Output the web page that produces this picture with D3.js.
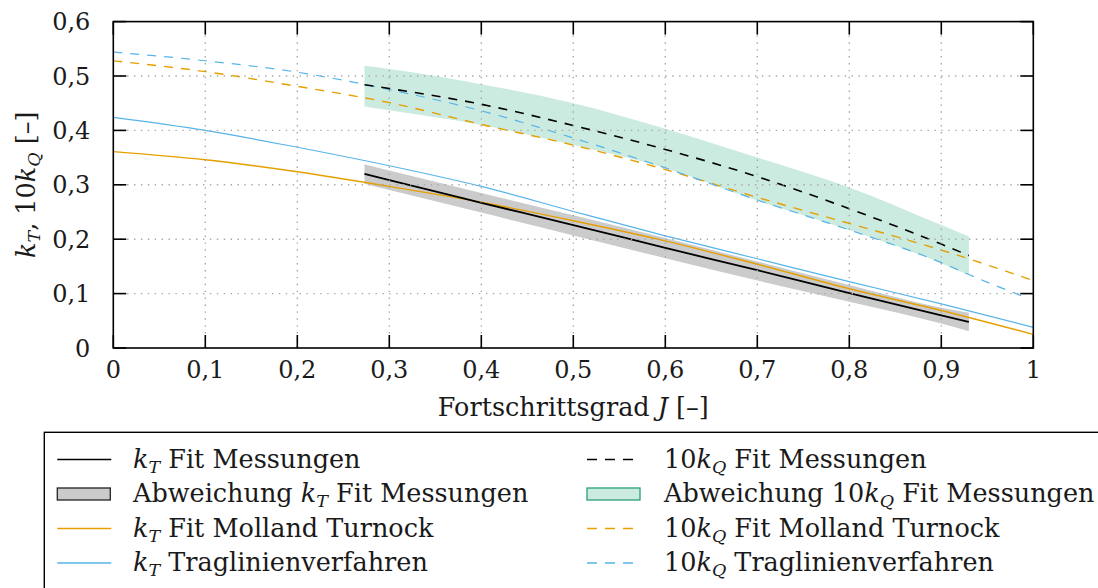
<!DOCTYPE html>
<html><head><meta charset="utf-8">
<script src="https://cdn.jsdelivr.net/npm/d3@7"></script>
<style>
body{margin:0;background:#fff;}
svg{display:block;font-family:"DejaVu Serif",serif;}
</style></head>
<body>
<svg id="c" width="1098" height="588"></svg>
<script>
// ---- data ----
const jModel = [0, 0.1, 0.2, 0.3, 0.4, 0.5, 0.6, 0.7, 0.8, 0.9, 1.0];
const kT_Tragl = [0.424, 0.400, 0.369, 0.335, 0.297, 0.251, 0.206, 0.164, 0.122, 0.081, 0.038];
const kT_MT    = [0.361, 0.346, 0.324, 0.297, 0.268, 0.234, 0.197, 0.154, 0.109, 0.069, 0.025];
const kQ10_MT  = [0.528, 0.508, 0.481, 0.451, 0.411, 0.373, 0.328, 0.277, 0.229, 0.180, 0.124];
const jTraglQ  = [0, 0.1, 0.2, 0.3, 0.4, 0.5, 0.6, 0.7, 0.8, 0.9, 0.93, 0.99];
const kQ10_Tragl = [0.544, 0.528, 0.507, 0.475, 0.436, 0.386, 0.331, 0.272, 0.217, 0.157, 0.135, 0.094];

const jMeas = [0.273, 0.3, 0.4, 0.5, 0.6, 0.7, 0.8, 0.9, 0.93];
const kT_Fit    = [0.320, 0.3085, 0.267, 0.226, 0.184, 0.143, 0.101, 0.060, 0.048];
const kT_Upper  = [0.338, 0.3265, 0.285, 0.244, 0.202, 0.159, 0.116, 0.074, 0.065];
const kT_Lower  = [0.302, 0.2905, 0.249, 0.207, 0.165, 0.124, 0.085, 0.045, 0.031];
const kQ10_Fit   = [0.484, 0.477, 0.448, 0.409, 0.365, 0.315, 0.256, 0.191, 0.170];
const kQ10_Upper = [0.519, 0.513, 0.485, 0.450, 0.403, 0.350, 0.295, 0.226, 0.205];
const kQ10_Lower = [0.444, 0.437, 0.410, 0.373, 0.331, 0.271, 0.217, 0.156, 0.134];

const xTicks = [0, 0.1, 0.2, 0.3, 0.4, 0.5, 0.6, 0.7, 0.8, 0.9, 1];
const yTicks = [0, 0.1, 0.2, 0.3, 0.4, 0.5, 0.6];

// ---- style ----
const C = {blue:"#56B4E9", orange:"#E69F00", black:"#000", gray:"#cbcbcb", green:"#cbeae0", greenStroke:"#2a9f79"};
const svg = d3.select("#c");
const L = 113.3, R = 1033.3, T = 21.6, B = 348;
const x = d3.scaleLinear().domain([0,1]).range([L,R]);
const y = d3.scaleLinear().domain([0,0.6]).range([B,T]);
const fmtY = v => v === 0 ? "0" : d3.format(".1f")(v).replace(".", ",");
const fmtX = v => v === 0 ? "0" : (v === 1 ? "1" : d3.format(".1f")(v).replace(".", ","));

svg.append("defs").append("clipPath").attr("id","clip")
  .append("rect").attr("x",L).attr("y",T).attr("width",R-L).attr("height",B-T);

const plot = svg.append("g").attr("clip-path","url(#clip)");

// bands
const area = (lo, hi) => d3.area().x((d,i)=>x(jMeas[i])).y0((d,i)=>y(lo[i])).y1((d,i)=>y(hi[i])).curve(d3.curveMonotoneX);
plot.append("path").datum(jMeas).attr("d", area(kT_Lower, kT_Upper)).attr("fill", C.gray);
plot.append("path").datum(jMeas).attr("d", area(kQ10_Lower, kQ10_Upper)).attr("fill", C.green);

// grid
const grid = svg.append("g");
xTicks.filter(v=>v>0 && v<1).forEach(v=>{
  grid.append("line").attr("x1",x(v)).attr("x2",x(v)).attr("y1",T).attr("y2",B)
    .attr("stroke","#a8a8a8").attr("stroke-width",1.4).attr("stroke-dasharray","1.4,5.5");
});
yTicks.filter(v=>v>0 && v<0.6).forEach(v=>{
  grid.append("line").attr("x1",L).attr("x2",R).attr("y1",y(v)).attr("y2",y(v))
    .attr("stroke","#a8a8a8").attr("stroke-width",1.4).attr("stroke-dasharray","1.4,5.5");
});

// lines
const line = (xs, ys) => d3.line().x((d,i)=>x(xs[i])).y((d,i)=>y(ys[i])).curve(d3.curveMonotoneX)(xs);
const series = [
  {xs:jModel, ys:kT_MT, c:C.orange, w:1.4, dash:null},
  {xs:jModel, ys:kT_Tragl, c:C.blue, w:1.2, dash:null},
  {xs:jModel, ys:kQ10_MT, c:C.orange, w:1.4, dash:"9,8"},
  {xs:jTraglQ, ys:kQ10_Tragl, c:C.blue, w:1.2, dash:"9,8"},
  {xs:jMeas, ys:kT_Fit, c:C.black, w:1.8, dash:null},
  {xs:jMeas, ys:kQ10_Fit, c:C.black, w:1.6, dash:"9,8"},
];
series.forEach(s=>{
  plot.append("path").attr("d", line(s.xs, s.ys)).attr("fill","none")
    .attr("stroke", s.c).attr("stroke-width", s.w).attr("stroke-dasharray", s.dash);
});

// frame & ticks
const ax = svg.append("g").attr("stroke","#000").attr("stroke-width",1.6);
ax.append("rect").attr("x",L).attr("y",T).attr("width",R-L).attr("height",B-T).attr("fill","none");
const TL = 13;
xTicks.forEach(v=>{
  ax.append("line").attr("x1",x(v)).attr("x2",x(v)).attr("y1",B).attr("y2",B-TL);
  ax.append("line").attr("x1",x(v)).attr("x2",x(v)).attr("y1",T).attr("y2",T+TL);
});
yTicks.forEach(v=>{
  ax.append("line").attr("x1",L).attr("x2",L+TL).attr("y1",y(v)).attr("y2",y(v));
  ax.append("line").attr("x1",R).attr("x2",R-TL).attr("y1",y(v)).attr("y2",y(v));
});

// tick labels
const TFS = 24, FS = 25.5, SFS = 17.5;
const txt = "#1a1a1a";
xTicks.forEach(v=>{
  svg.append("text").attr("x",x(v)).attr("y",B+30).attr("text-anchor","middle")
    .attr("font-size",TFS).attr("fill",txt).text(fmtX(v));
});
yTicks.forEach(v=>{
  svg.append("text").attr("x",L-23).attr("y",y(v)+8.5).attr("text-anchor","end")
    .attr("font-size",TFS).attr("fill",txt).text(fmtY(v));
});

// axis titles
const xt = svg.append("text").attr("x",(L+R)/2).attr("y",416).attr("text-anchor","middle").attr("font-size",FS).attr("fill",txt);
xt.append("tspan").text("Fortschrittsgrad ");
xt.append("tspan").attr("font-style","italic").text("J");
xt.append("tspan").text(" [–]");

const yt = svg.append("text").attr("transform",`translate(35,${(T+B)/2}) rotate(-90)`)
  .attr("text-anchor","middle").attr("font-size",FS).attr("fill",txt);
yt.append("tspan").attr("font-style","italic").text("k");
yt.append("tspan").attr("font-style","italic").attr("font-size",SFS).attr("dy",5).text("T");
yt.append("tspan").attr("dy",-5).text(", 10");
yt.append("tspan").attr("font-style","italic").text("k");
yt.append("tspan").attr("font-style","italic").attr("font-size",SFS).attr("dy",5).text("Q");
yt.append("tspan").attr("dy",-5).text(" [–]");

// legend
const lg = svg.append("g");
lg.append("rect").attr("x",44.3).attr("y",432.3).attr("width",1100).attr("height",200)
  .attr("fill","#fff").attr("stroke","#000").attr("stroke-width",1.4);

const legendItems = [
  {col:0,row:0,type:"line",c:C.black,dash:null,pre:"",sub:"T",post:" Fit Messungen"},
  {col:0,row:1,type:"rect",c:C.gray,stroke:"#222",pre:"Abweichung ",sub:"T",post:" Fit Messungen"},
  {col:0,row:2,type:"line",c:C.orange,dash:null,pre:"",sub:"T",post:" Fit Molland Turnock"},
  {col:0,row:3,type:"line",c:C.blue,dash:null,pre:"",sub:"T",post:" Traglinienverfahren"},
  {col:1,row:0,type:"line",c:C.black,dash:"10,8",pre:"10",sub:"Q",post:" Fit Messungen"},
  {col:1,row:1,type:"rect",c:C.green,stroke:C.greenStroke,pre:"Abweichung 10",sub:"Q",post:" Fit Messungen"},
  {col:1,row:2,type:"line",c:C.orange,dash:"10,8",pre:"10",sub:"Q",post:" Fit Molland Turnock"},
  {col:1,row:3,type:"line",c:C.blue,dash:"10,8",pre:"10",sub:"Q",post:" Traglinienverfahren"},
];
const colX = [57.3, 587];
const colTx = [133, 664];
const rowY = [459.5, 494, 528.5, 563];
legendItems.forEach(it=>{
  const x0 = colX[it.col], yy = rowY[it.row];
  if (it.type === "line") {
    lg.append("line").attr("x1",x0).attr("x2",x0+54).attr("y1",yy).attr("y2",yy)
      .attr("stroke",it.c).attr("stroke-width",1.3).attr("stroke-dasharray",it.dash);
  } else {
    lg.append("rect").attr("x",x0).attr("y",yy-6).attr("width",53).attr("height",12)
      .attr("fill",it.c).attr("stroke",it.stroke).attr("stroke-width",1.3);
  }
  const t = lg.append("text").attr("x",colTx[it.col]).attr("y",yy+8).attr("font-size",FS).attr("fill",txt);
  if (it.pre) t.append("tspan").text(it.pre);
  t.append("tspan").attr("font-style","italic").text("k");
  t.append("tspan").attr("font-style","italic").attr("font-size",SFS).attr("dy",5).text(it.sub);
  t.append("tspan").attr("dy",-5).text(it.post);
});
</script>
</body></html>
